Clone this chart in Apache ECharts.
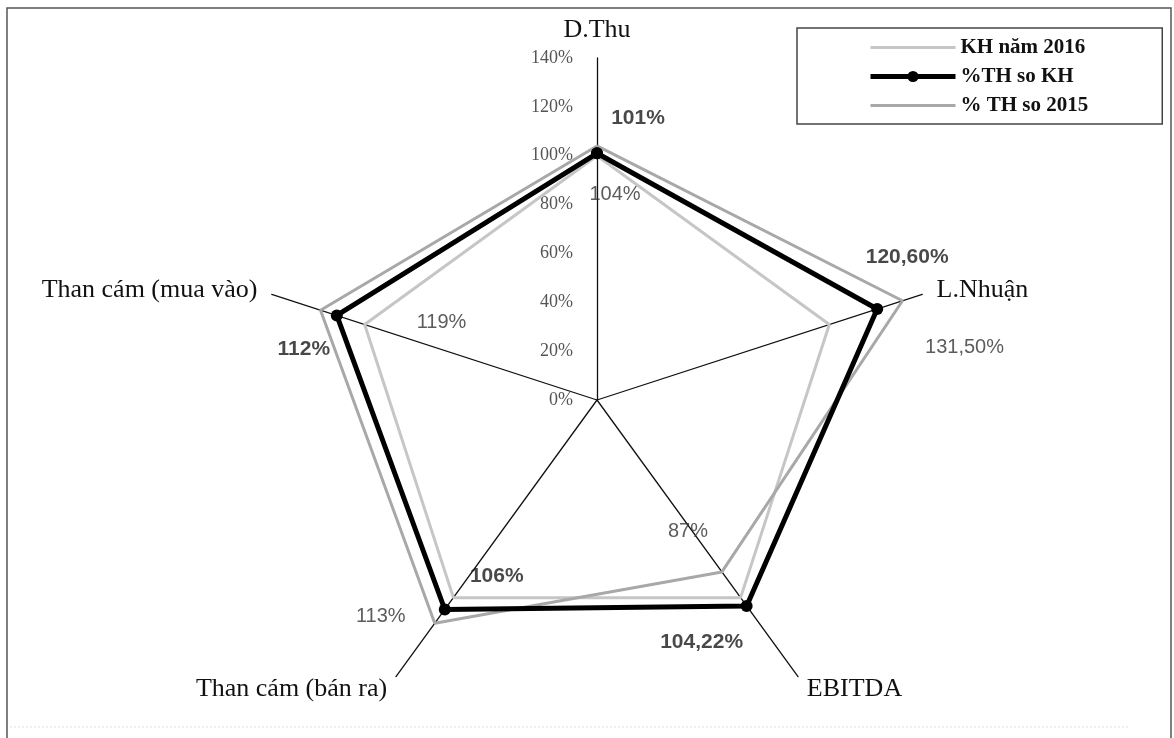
<!DOCTYPE html>
<html>
<head>
<meta charset="utf-8">
<script src="https://cdn.jsdelivr.net/npm/echarts@6/dist/echarts.min.js"></script>
<style>
  html, body { margin: 0; padding: 0; background: #fff; }
  #chart { width: 1174px; height: 738px; }
</style>
</head>
<body>
<div id="chart"></div>
<script>
// ---- data (clockwise from top) ----
const categories = ['D.Thu', 'L.Nhuận', 'EBITDA', 'Than cám (bán ra)', 'Than cám (mua vào)'];
const seriesNames = ['KH năm 2016', '%TH so KH', '% TH so 2015'];
const khValues = [100, 100, 100, 100, 100];
const thSoKH = [101, 120.6, 104.22, 106, 112];
const thSo2015 = [104, 131.5, 87, 113, 119];
const radialMax = 140;
const radialInterval = 20;

// ---- label offsets (style only) ----
const offsetsKH = [[41, -35], [30, -52], [-45, 36], [52, -33], [-33, 34]];
const offsets2015 = [[18, 49], [62, 47], [-34, -40], [-54, -7], [121, 12]];

const CENTER = [597, 400];
const RADIUS = 342;
const n = categories.length;
const angleOf = i => i * 360 / n;

function closedPoly(vals) {
  const pts = vals.map((v, i) => [v, angleOf(i)]);
  pts.push([vals[0], 360]);
  return pts;
}
function fmt(v) {
  return (Number.isInteger(v) ? String(v) : v.toFixed(2).replace('.', ',')) + '%';
}
function labelPoints(vals, offsets) {
  return vals.map((v, i) => ({ value: [v, angleOf(i)], label: { offset: offsets[i] } }));
}

// radar indicators go counter-clockwise in ECharts
const radarOrder = [0, 4, 3, 2, 1];
const indicators = radarOrder.map(i => ({ name: categories[i], min: 0, max: radialMax }));

const chart = echarts.init(document.getElementById('chart'));
chart.setOption({
  animation: false,
  backgroundColor: '#fff',
  graphic: [
    { type: 'rect', shape: { x: 7, y: 8, width: 1164, height: 760 },
      style: { fill: 'none', stroke: '#555', lineWidth: 1.5 }, silent: true },
    { type: 'line', shape: { x1: 10, y1: 727, x2: 1130, y2: 727 },
      style: { stroke: '#ddd', lineWidth: 1, lineDash: [2, 2] }, silent: true }
  ],
  legend: {
    data: [
      { name: seriesNames[0], lineStyle: { width: 3 }, itemStyle: { opacity: 0 } },
      { name: seriesNames[1], lineStyle: { width: 5 } },
      { name: seriesNames[2], lineStyle: { width: 3 }, itemStyle: { opacity: 0 } }
    ],
    orient: 'vertical',
    left: 797, top: 28,
    itemWidth: 85, itemHeight: 14, itemGap: 8,
    padding: [9, 74, 8, 71],
    borderColor: '#444', borderWidth: 1.5,
    textStyle: { fontFamily: 'Liberation Serif', fontWeight: 'bold', fontSize: 21, color: '#111' }
  },
  radar: {
    center: CENTER,
    radius: RADIUS,
    startAngle: 90,
    shape: 'polygon',
    splitNumber: 7,
    indicator: indicators,
    nameGap: 15,
    axisName: { color: '#111', fontFamily: 'Liberation Serif', fontSize: 26 },
    splitLine: { show: false },
    splitArea: { show: false },
    axisTick: { show: false },
    axisLabel: { show: false },
    axisLine: { lineStyle: { color: '#111', width: 1.3 } }
  },
  polar: { center: CENTER, radius: [0, RADIUS] },
  angleAxis: {
    type: 'value', min: 0, max: 360, startAngle: 90, clockwise: true,
    axisLine: { show: false }, axisTick: { show: false }, axisLabel: { show: false },
    splitLine: { show: false }
  },
  radiusAxis: {
    type: 'value', min: 0, max: radialMax, interval: radialInterval,
    axisLine: { show: false }, axisTick: { show: false }, splitLine: { show: false },
    axisLabel: { formatter: '{value}%', margin: 24, fontFamily: 'Liberation Serif', fontSize: 18, color: '#555' }
  },
  series: [
    { name: seriesNames[0], type: 'line', coordinateSystem: 'polar', data: closedPoly(khValues),
      symbol: 'none', color: '#c6c6c6', lineStyle: { color: '#c6c6c6', width: 3 }, z: 2, silent: true },
    { name: seriesNames[2], type: 'line', coordinateSystem: 'polar', data: closedPoly(thSo2015),
      symbol: 'none', color: '#a8a8a8', lineStyle: { color: '#a8a8a8', width: 3 }, z: 3, silent: true },
    { name: seriesNames[1], type: 'line', coordinateSystem: 'polar', data: closedPoly(thSoKH),
      symbol: 'circle', symbolSize: 12, color: '#000', itemStyle: { color: '#000' },
      lineStyle: { color: '#000', width: 5 }, z: 5, silent: true },
    { name: 'lbl-kh', type: 'scatter', coordinateSystem: 'polar', data: labelPoints(thSoKH, offsetsKH),
      symbolSize: 1, itemStyle: { color: 'rgba(0,0,0,0)' }, z: 10, silent: true,
      label: { show: true, position: 'inside', formatter: p => fmt(p.value[0]),
        fontFamily: 'Liberation Sans', fontWeight: 'bold', fontSize: 21, color: '#1a1a1a' } },
    { name: 'lbl-2015', type: 'scatter', coordinateSystem: 'polar', data: labelPoints(thSo2015, offsets2015),
      symbolSize: 1, itemStyle: { color: 'rgba(0,0,0,0)' }, z: 10, silent: true,
      label: { show: true, position: 'inside', formatter: p => fmt(p.value[0]),
        fontFamily: 'Liberation Sans', fontSize: 20, color: '#333' } }
  ]
});
</script>
</body>
</html>
